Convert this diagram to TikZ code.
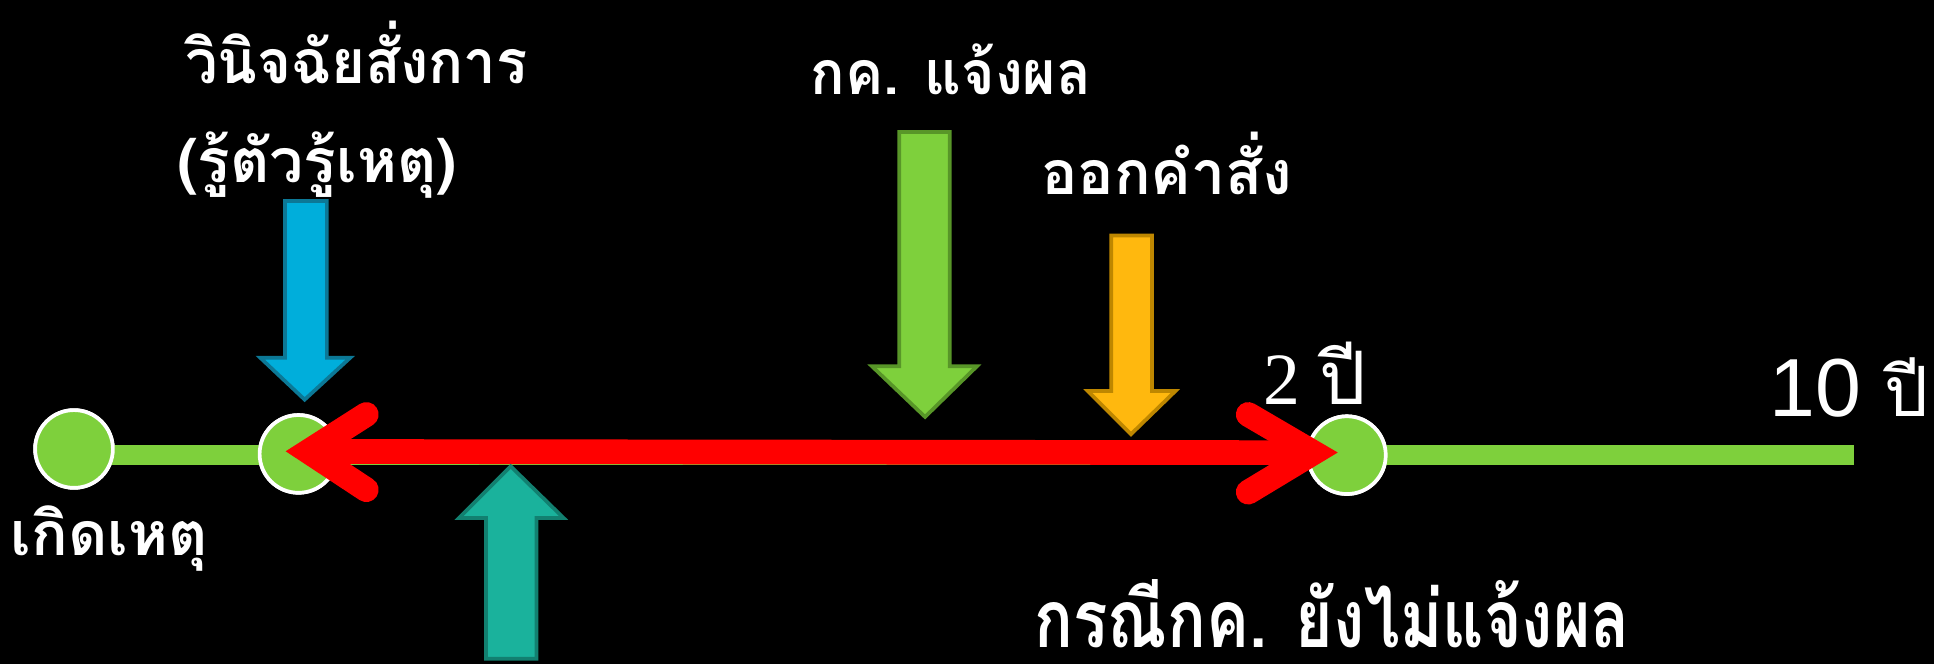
\documentclass[tikz,border=0pt]{standalone}
\usepackage{fontspec}
\newfontfamily\thai[Script=Thai]{Loma}
\newfontfamily\lsans{Liberation Sans}
\newfontfamily\lserif{Liberation Serif}
\definecolor{lgreen}{RGB}{126,208,60}
\definecolor{dgreen}{RGB}{88,150,40}
\definecolor{lblue}{RGB}{0,174,219}
\definecolor{dblue}{RGB}{12,120,150}
\definecolor{orng}{RGB}{255,184,14}
\definecolor{dorng}{RGB}{190,135,0}
\definecolor{tealf}{RGB}{26,178,156}
\definecolor{dteal}{RGB}{18,128,112}
\definecolor{redc}{RGB}{255,0,0}
\begin{document}
\begin{tikzpicture}[x=0.01cm,y=-0.01cm,
  dot/.style={circle,fill=lgreen,draw=white,line width=0.03cm,minimum size=0.63cm,inner sep=0pt},
  blockarrow/.style={line width=0.03cm,line join=miter},
  lbl/.style={text=white,inner sep=0pt,font=\thai\bfseries\fontsize{14pt}{16pt}\selectfont},
  redarm/.style={draw=redc,line width=0.2cm,line cap=round,line join=miter},
  timeline/.style={draw=lgreen,line width=0.16cm}]
\fill[black] (0,0) rectangle (1568,538);
\useasboundingbox (0,0) rectangle (1568,538);
% timeline
\coordinate (lineend) at (1503,369);
\node[dot] (c1) at (60,364) {};
\node[dot] (c2) at (242,368) {};
\node[dot] (c3) at (1092,369) {};
\draw[timeline] (c1.center |- lineend) -- (lineend);
\node[dot] at (c1) {};
\node[dot] at (c2) {};
\node[dot] at (c3) {};
% red double arrow
\coordinate (lt) at (250,366);
\coordinate (rt) at (1065,367);
\coordinate (lu) at (297,336);
\coordinate (ld) at (297,397);
\coordinate (ru) at (1012,336);
\coordinate (rd) at (1012,399);
\draw[draw=redc,line width=0.2cm] (lt) -- (rt);
\draw[redarm] (lu) -- (lt) -- (ld);
\draw[redarm] (ru) -- (rt) -- (rd);
% block arrows
\draw[blockarrow,fill=lblue,draw=dblue] (231,163) -- (265,163) -- (265,290) -- (284,290) -- (247,324) -- (211,290) -- (231,290) -- cycle;
\draw[blockarrow,fill=lgreen,draw=dgreen] (729,107) -- (770,107) -- (770,297) -- (792,297) -- (750,338) -- (707,297) -- (729,297) -- cycle;
\draw[blockarrow,fill=orng,draw=dorng] (901,191) -- (934,191) -- (934,317) -- (953,317) -- (917,352) -- (882,317) -- (901,317) -- cycle;
\draw[blockarrow,fill=tealf,draw=dteal] (394,534) -- (435,534) -- (435,420) -- (457,420) -- (414,378) -- (372,420) -- (394,420) -- cycle;
% labels
\node[lbl,anchor=base] (t1) at (289,68) {\scalebox{0.955}[1]{วินิจฉัยสั่งการ}};
\node[lbl,anchor=base] (t2) at (257,148) {(รู้ตัวรู้เหตุ)};
\node[lbl,anchor=base] (t3) at (771,77) {\scalebox{0.94}[1]{กค. แจ้งผล}};
\node[lbl,anchor=base] (t4) at (946,158) {ออกคำสั่ง};
\node[lbl,anchor=base west] (t5) at (8,450) {เกิดเหตุ};
\node[lbl,anchor=base west,font=\thai\bfseries\fontsize{18.5pt}{20pt}\selectfont] (t6) at (838,525) {\scalebox{0.80}[1]{กรณีกค. ยังไม่แจ้งผล}};
\node[text=white,inner sep=0pt,anchor=base west] (t7) at (1024,328) {\lserif\fontsize{17pt}{19pt}\selectfont 2 \thai ปี};
\node[text=white,inner sep=0pt,anchor=base west] (t8) at (1434,338) {\lsans\fontsize{19pt}{22pt}\selectfont 10 \thai\fontsize{16pt}{19pt}\selectfont ปี};
\end{tikzpicture}
\end{document}
